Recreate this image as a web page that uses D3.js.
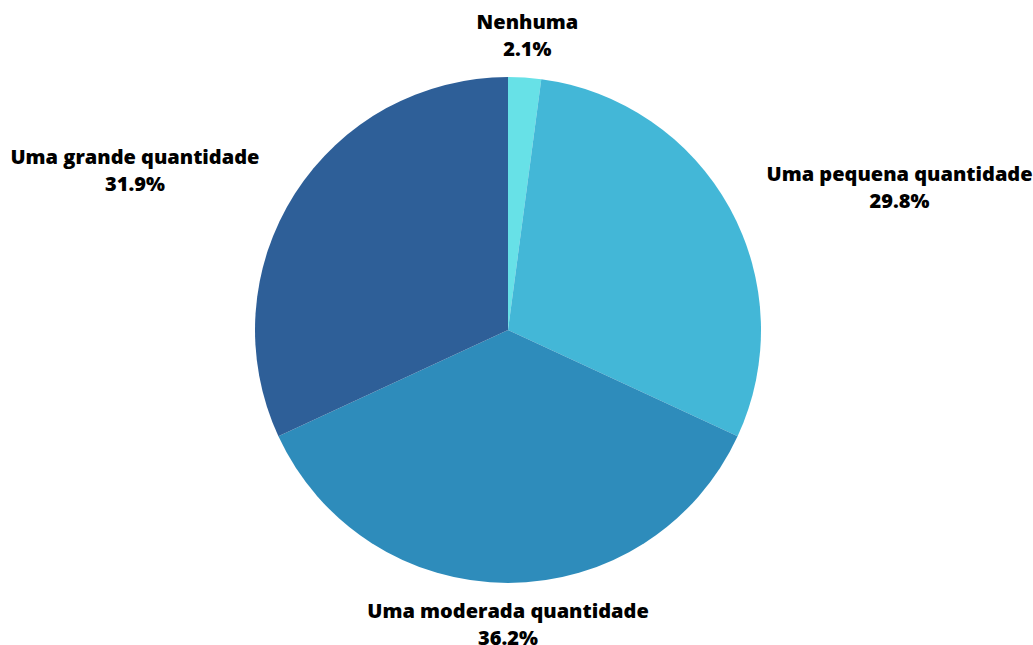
<!DOCTYPE html>
<html>
<head>
<meta charset="utf-8">
<script src="https://cdn.jsdelivr.net/npm/d3@7"></script>
<style>
  html, body { margin: 0; padding: 0; background: #ffffff; }
  svg { display: block; }
  text { font-family: "Open Sans", sans-serif; font-weight: 800; font-size: 20px; fill: #000; }
</style>
</head>
<body>
<svg id="chart" width="1033" height="645"></svg>
<script>
const categories = ["Nenhuma", "Uma pequena quantidade", "Uma moderada quantidade", "Uma grande quantidade"];
const values = [2.1, 29.8, 36.2, 31.9];
const colors = ["#67E1E7", "#43B7D7", "#2E8CBB", "#2E5F98"];

const W = 1033, H = 645;
const cx = 508, cy = 330, R = 253, labelR = 295;

const svg = d3.select("#chart");
const g = svg.append("g").attr("transform", `translate(${cx},${cy})`);

const data = categories.map((c, i) => ({ cat: c, value: values[i], color: colors[i] }));
const pie = d3.pie().value(d => d.value).sort(null);
const arc = d3.arc().innerRadius(0).outerRadius(R);
const arcs = pie(data);

g.selectAll("path.slice").data(arcs).join("path")
  .attr("class", "slice")
  .attr("d", arc)
  .attr("fill", d => d.data.color);

const fmt = d3.format(".1f");
const labels = g.selectAll("g.lbl").data(arcs).join("g").attr("class", "lbl")
  .each(function(d) {
    const a = (d.startAngle + d.endAngle) / 2;
    const x = labelR * Math.sin(a), y = -labelR * Math.cos(a);
    const s = Math.sin(a);
    const anchor = Math.abs(s) < 0.3 ? "middle" : (s > 0 ? "start" : "end");
    const t = d3.select(this).append("text")
      .attr("text-anchor", anchor)
      .attr("x", x).attr("y", y);
    t.append("tspan").attr("x", x).attr("dy", "-0.35em").text(d.data.cat);
    t.append("tspan").attr("x", x).attr("dy", "1.35em").text(fmt(d.data.value) + "%");
  });

labels.selectAll("text").each(function() {
  const tspans = d3.select(this).selectAll("tspan");
  const w = [];
  tspans.each(function() { w.push(this.getComputedTextLength()); });
  const anchor = d3.select(this).attr("text-anchor");
  if (anchor !== "middle") {
    const maxW = d3.max(w);
    const x0 = +d3.select(this).attr("x");
    d3.select(this).attr("text-anchor", "middle");
    const cxl = anchor === "start" ? x0 + maxW / 2 : x0 - maxW / 2;
    tspans.attr("x", cxl);
  }
});
</script>
</body>
</html>
